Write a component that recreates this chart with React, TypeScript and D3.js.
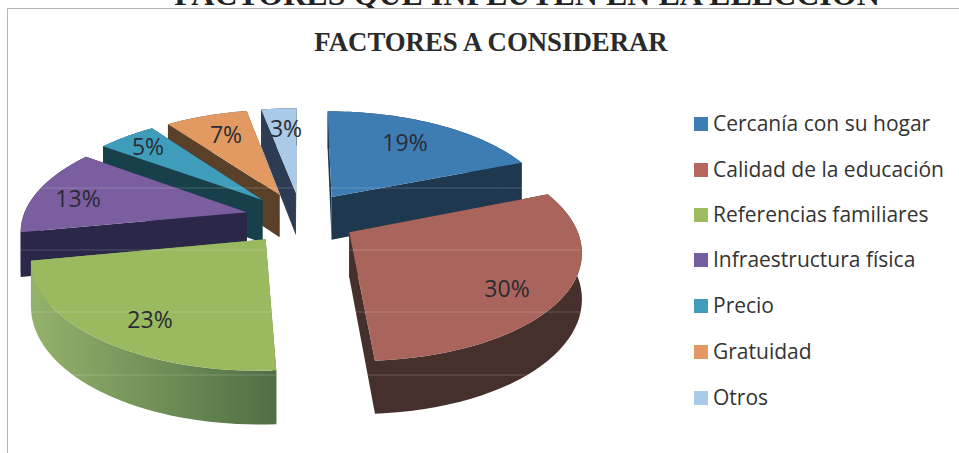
import React from "react";
import * as d3 from "d3";

const categories = ["Cercanía con su hogar","Calidad de la educación","Referencias familiares","Infraestructura física","Precio","Gratuidad","Otros"];
const values = [19,30,23,13,5,7,3];
const labels = ["19%","30%","23%","13%","5%","7%","3%"];
const topColors = ["#3d7db3","#a9645b","#9bb95f","#7a5e9f","#3f9dbb","#e39a62","#a9cbe8"];
const wallColors = ["#1e3850","#46302c","#5f7f4a","#2b2748","#17404a","#5a4028","#2d3c52"];
const legendColors = ["#3d7db3","#b5675f","#9dbb5f","#7460a0","#3f9dbb","#e39a62","#a9cbe8"];
const drawOrder = [6,5,4,0,3,1,2];
const labelPos: [number,number][] = [[405,143],[507,289],[150,320],[78,199],[148,147],[226,135],[286,129]];
const legendY = [124,170,215,260,306,352,398];
const scanLines = [188,250,312,375];

const W = 959, H = 453;
const cx = 301, cy = 218, a = 224, b = 104.5, k = 0.151, explode = 0.25, thick = 44;

const project = (X:number, Y:number, z:number):[number,number] => {
  const s = 1/(1-k*Y);
  return [cx + a*X*s, cy + b*Y*s + z*s];
};

const pieArcs = d3.pie<number>().sort(null).value(d=>d)(values);
const line = d3.line();

function slice(i:number){
  const arc = pieArcs[i];
  const mid = (arc.startAngle+arc.endAngle)/2;
  const ox = explode*Math.sin(mid), oy = -explode*Math.cos(mid);
  const angles = d3.range(0,41).map(t=>arc.startAngle+(arc.endAngle-arc.startAngle)*t/40);
  const rim = angles.map(t=>[ox+Math.sin(t), oy-Math.cos(t)] as [number,number]);
  const apex:[number,number] = [ox,oy];
  const at = (z:number)=>rim.map(p=>project(p[0],p[1],z));
  const topRim = at(0), botRim = at(thick);
  const apexTop = project(apex[0],apex[1],0), apexBot = project(apex[0],apex[1],thick);
  const last = rim.length-1;
  const wall = [
    line([apexTop,topRim[0],botRim[0],apexBot])+"Z",
    line([apexTop,topRim[last],botRim[last],apexBot])+"Z",
    line([...topRim,...botRim.slice().reverse()])+"Z",
  ];
  return {top:line([apexTop,...topRim])+"Z", wall};
}

export default function App(){
  const slices = drawOrder.map(i=>({i,...slice(i)}));
  return (
    <svg width={W} height={H} style={{position:"absolute",left:0,top:0,background:"#fff"}}>
      <defs>
        <linearGradient id="greenWall" gradientUnits="userSpaceOnUse" x1={35} x2={278} y1={0} y2={0}>
          <stop offset="0" stopColor="#93b16a"/>
          <stop offset="1" stopColor="#4f6e45"/>
        </linearGradient>
        <clipPath id="pieClip">
          {slices.map(s=>[s.top,...s.wall].map((d,j)=><path key={s.i+"-"+j} d={d}/>))}
        </clipPath>
      </defs>
      <text x={527} y={5} textAnchor="middle" fontFamily="Liberation Serif" fontWeight="bold" fontSize={32} fill="#222">FACTORES QUE INFLUYEN EN LA ELECCIÓN</text>
      <rect x={0} y={8} width={W} height={H} fill="#fff"/>
      <path d={`M7.5 ${H}V8.5H${W}`} fill="none" stroke="#b5b5b5" strokeWidth={1}/>
      <text x={491} y={51} textAnchor="middle" fontFamily="Liberation Serif" fontWeight="bold" fontSize={26.8} fill="#2a2a2a">FACTORES A CONSIDERAR</text>
      {slices.map(s=>{
        const wallFill = s.i===2 ? "url(#greenWall)" : wallColors[s.i];
        return (
          <g key={s.i}>
            {s.wall.map((d,j)=><path key={j} d={d} fill={wallFill}/>)}
            <path d={s.top} fill={topColors[s.i]}/>
          </g>
        );
      })}
      <g clipPath="url(#pieClip)">
        {scanLines.map(y=><line key={y} x1={0} x2={W} y1={y} y2={y} stroke="#fff" strokeOpacity={0.13} strokeWidth={1.5}/>)}
      </g>
      {labels.map((l,i)=>(
        <text key={l} x={labelPos[i][0]} y={labelPos[i][1]} dy="0.35em" textAnchor="middle" fontFamily="Open Sans" fontSize={23} fill="#2b2b33">{l}</text>
      ))}
      {categories.map((c,i)=>(
        <g key={c}>
          <rect x={694} y={legendY[i]-7} width={14} height={14} fill={legendColors[i]}/>
          <text x={713} y={legendY[i]} dy="0.35em" fontFamily="Open Sans" fontSize={21} fill="#333">{c}</text>
        </g>
      ))}
    </svg>
  );
}
